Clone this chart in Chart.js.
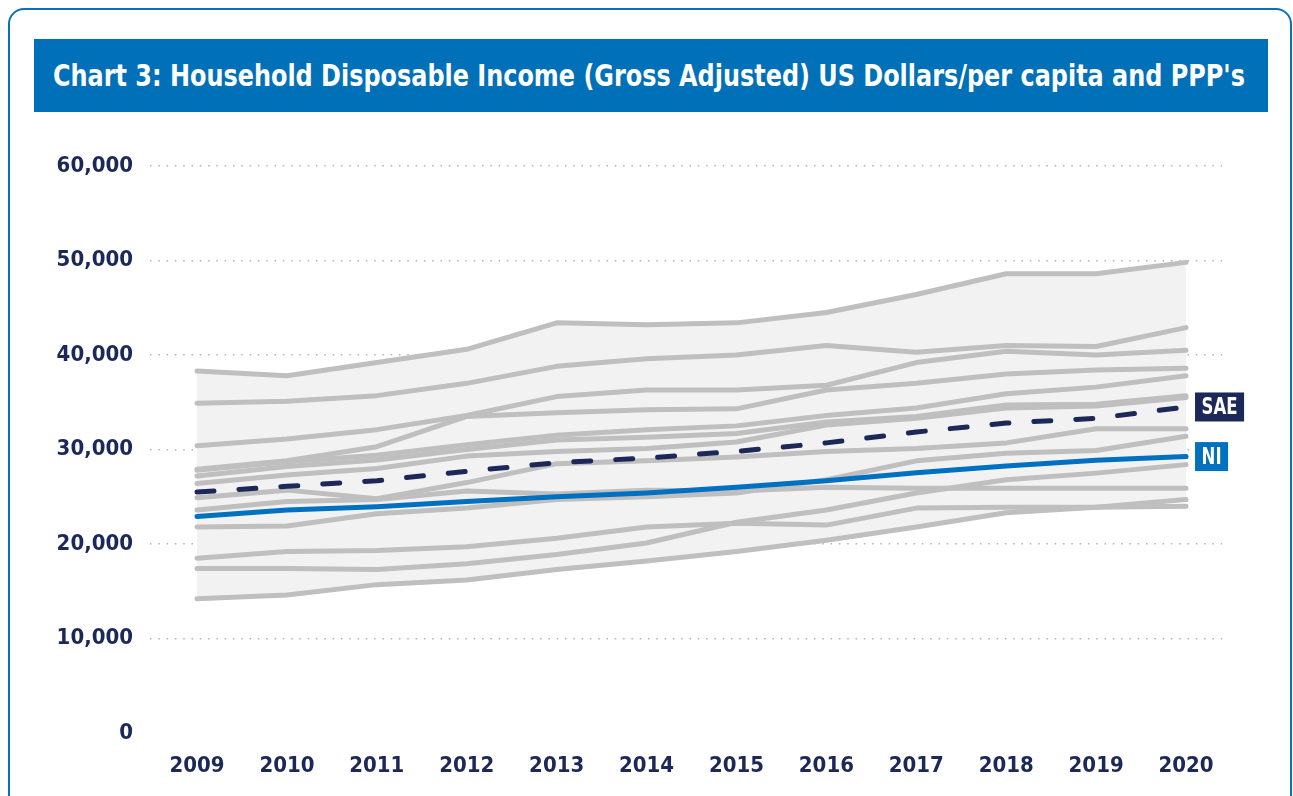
<!DOCTYPE html>
<html>
<head>
<meta charset="utf-8">
<script src="https://cdn.jsdelivr.net/npm/chart.js@4.4.1/dist/chart.umd.min.js"></script>
<style>
    body { margin: 0; background: #fff; width: 1293px; height: 796px; overflow: hidden; position: relative; }
    .frame { position: absolute; left: 8px; top: 8px; width: 1280px; height: 820px; border: 2px solid #0a71b9; border-radius: 16px; }
    .title { position: absolute; left: 34px; top: 39px; width: 1234px; height: 73px; background: #0070b8; z-index: 2; overflow: hidden; }
    .title span { position: absolute; left: 19px; top: 0; color: #fff; white-space: nowrap;
                  font: bold 30px "DejaVu Sans Condensed", sans-serif; line-height: 73px; transform-origin: left center; }
    #incomeChart { position: absolute; left: 0; top: 0; z-index: 1; }
</style>
</head>
<body>
<div class="frame"></div>
<div class="title"><span id="titleText">Chart 3: Household Disposable Income (Gross Adjusted) US Dollars/per capita and PPP's</span></div>
<canvas id="incomeChart" width="1293" height="796"></canvas>
<script>
// Datos
const years = [2009, 2010, 2011, 2012, 2013, 2014, 2015, 2016, 2017, 2018, 2019, 2020];
const yTicks = [0, 10000, 20000, 30000, 40000, 50000, 60000];

const niValues  = [22900, 23600, 23950, 24500, 25000, 25400, 26000, 26700, 27550, 28250, 28850, 29250];
const saeValues = [25500, 26100, 26700, 27700, 28600, 29100, 29800, 30700, 31850, 32800, 33300, 34500];

// Otras regiones (gris)
const grey1  = [38300, 37800, 39200, 40600, 43400, 43200, 43400, 44500, 46400, 48600, 48600, 49800];
const grey2  = [34900, 35100, 35700, 37000, 38800, 39600, 40000, 41000, 40300, 41000, 40900, 42900];
const grey3  = [30400, 31100, 32100, 33600, 35600, 36300, 36300, 36800, 39200, 40400, 40000, 40500];
const grey4  = [27900, 28800, 30300, 33500, 33900, 34200, 34300, 36300, 37000, 38000, 38400, 38600];
const grey5  = [27800, 28700, 29400, 30500, 31500, 32100, 32500, 33600, 34400, 35900, 36600, 37800];
const grey6  = [27200, 28200, 28900, 30000, 31000, 31300, 31700, 32900, 33500, 34700, 34800, 35700];
const grey7  = [26400, 27300, 28000, 29300, 29800, 30100, 30800, 32600, 33300, 34400, 34600, 35500];
const grey8  = [24900, 25700, 24800, 26500, 28500, 28800, 29200, 29800, 30100, 30700, 32200, 32200];
const grey9  = [23600, 24500, 24700, 25600, 25300, 25700, 25600, 26000, 25900, 25900, 25900, 25900];
const grey10 = [21800, 21900, 23200, 23800, 24700, 25000, 25400, 26800, 28800, 29600, 29900, 31400];
const grey11 = [18500, 19200, 19300, 19700, 20600, 21800, 22200, 22000, 23800, 23900, 23900, 24000];
const grey12 = [17400, 17400, 17300, 17900, 18900, 20100, 22300, 23600, 25400, 26800, 27500, 28400];
const grey13 = [14200, 14600, 15700, 16200, 17300, 18200, 19200, 20400, 21800, 23300, 23900, 24700];

const greySeries = [grey13, grey12, grey11, grey10, grey9, grey8, grey7, grey6, grey5, grey4, grey3, grey2, grey1];

const navy = '#1b2858';
const blue = '#0070c0';
const tickFont = { family: 'DejaVu Sans Condensed', weight: 'bold', size: 22 };

// Ajustar el título al ancho de la barra
const titleEl = document.getElementById('titleText');
titleEl.style.transform = 'scaleX(' + (1192 / titleEl.offsetWidth) + ')';

function toPoints(values) {
    return values.map((v, i) => ({ x: years[i], y: v }));
}

function lineDataset(label, values, color, extra = {}) {
    return Object.assign({
        label: label,
        data: toPoints(values),
        borderColor: color,
        borderWidth: 5,
        borderCapStyle: 'round',
        borderJoinStyle: 'round',
        pointRadius: 0,
        tension: 0,
        fill: false
    }, extra);
}

// NI y SAE primero para que queden encima
const datasets = [
    lineDataset('NI', niValues, blue, { endLabel: true }),
    lineDataset('SAE', saeValues, navy, { borderDash: [17, 25], endLabel: true })
];
greySeries.forEach((values, i) => {
    datasets.push(lineDataset('Region ' + (i + 1), values, '#bfbfbf'));
});
// Sombra entre la línea más alta y la más baja
const bottomIndex = 2;
datasets[datasets.length - 1].fill = { target: bottomIndex };
datasets[datasets.length - 1].backgroundColor = '#f2f2f2';

// Etiquetas al final de las líneas
const endLabels = {
    id: 'endLabels',
    afterDatasetsDraw(chart) {
        const ctx = chart.ctx;
        chart.data.datasets.forEach((ds, i) => {
            if (!ds.endLabel) return;
            const pts = chart.getDatasetMeta(i).data;
            const last = pts[pts.length - 1];
            ctx.save();
            ctx.font = 'bold 23px "DejaVu Sans Condensed", sans-serif';
            const squeeze = 0.8;
            const textW = ctx.measureText(ds.label).width * squeeze;
            const w = textW + 13;
            ctx.fillStyle = ds.borderColor;
            ctx.fillRect(last.x + 9, last.y - 14.5, w, 29);
            ctx.fillStyle = '#fff';
            ctx.textBaseline = 'middle';
            ctx.textAlign = 'center';
            ctx.translate(last.x + 9 + w / 2, last.y + 1);
            ctx.scale(squeeze, 1);
            ctx.fillText(ds.label, 0, 0);
            ctx.restore();
        });
    }
};

const ctx = document.getElementById('incomeChart').getContext('2d');
const incomeChart = new Chart(ctx, {
    type: 'line',
    data: { datasets: datasets },
    options: {
        responsive: false,
        animation: false,
        layout: { padding: { top: 166, right: 71, bottom: 0, left: 0 } },
        plugins: {
            legend: { display: false },
            tooltip: { enabled: false },
            filler: { drawTime: 'beforeDatasetsDraw' }
        },
        scales: {
            x: {
                type: 'linear',
                min: 2008.477,
                max: 2020.4,
                afterBuildTicks: scale => { scale.ticks = years.map(v => ({ value: v })); },
                afterFit: scale => { scale.height = 63; },
                grid: { display: false, drawTicks: false },
                border: { display: false },
                ticks: { color: navy, font: tickFont, padding: 20, callback: v => String(v) }
            },
            y: {
                min: 0,
                max: 60000,
                afterBuildTicks: scale => { scale.ticks = yTicks.map(v => ({ value: v })); },
                afterFit: scale => { scale.width = 150; },
                grid: {
                    drawTicks: false,
                    lineWidth: 1.5,
                    color: c => c.tick && c.tick.value === 0 ? 'rgba(0,0,0,0)' : '#b3b3b3'
                },
                border: { display: false, dash: [1.5, 6.8] },
                ticks: {
                    color: navy,
                    font: tickFont,
                    padding: 17,
                    callback: v => v.toLocaleString('en-US')
                }
            }
        }
    },
    plugins: [endLabels]
});
</script>
</body>
</html>
